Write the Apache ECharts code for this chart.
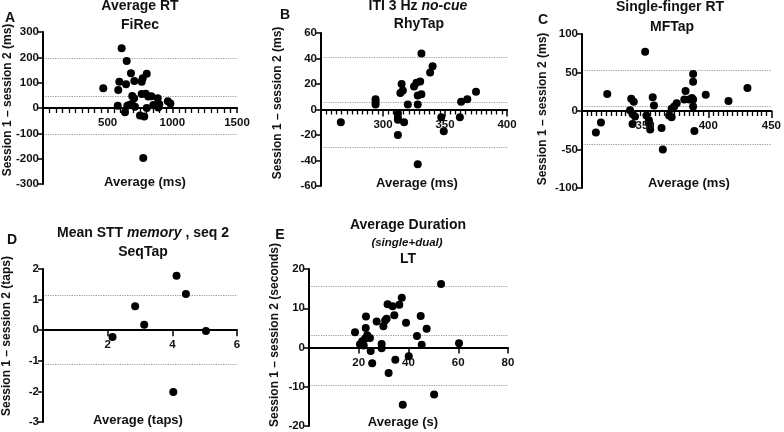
<!DOCTYPE html>
<html><head><meta charset="utf-8">
<script src="https://cdn.jsdelivr.net/npm/echarts@6/dist/echarts.min.js"></script>
<style>html,body{margin:0;padding:0;background:#fff}#c{width:784px;height:432px}</style>
</head><body><div id="c"></div>
<script>
// ---- Data (average, difference) per panel ----
const fiRecPoints = [[608,236],[647,186],[466,78],[590,104],[582,71],[642,94],[680,137],[706,107],[763,104],[771,117],[802,135],
  [690,47],[704,38],[763,55],[794,56],[814,45],[887,38],[578,9],[634,-17],[667,12],[711,5],[686,16],[652,9],[750,-30],[783,-34],
  [802,0],[853,12],[899,15],[891,2],[965,27],[985,18],[838,46],[775,-197]];
const fiRecLimits = [197, 47, -102];

const rhyTapPoints = [[331,44],[340,34],[338,29],[315,20],[314,13],[316,15],[325,18],[327,21],[330,22],[328,11],[331,12],[328,4],
  [294,8],[294,6],[294,4],[320,4],[312,-3],[312,-6],[312,-8],[317,-10],[312,-20],[266,-10],[347,-6],[349,-17],[362,-6],[363,6],
  [368,8],[375,14],[328,-43]];
const rhyTapLimits = [41, 5.7, -29.6];

const mfTapPoints = [[350,77],[320,22],[311,-28],[315,-15],[339,16],[341,12],[338,1],[340,-4],[342,-7],[340,-17],[351,-6],[353,-12],
  [353,-16],[354,-24],[356,18],[357,7],[363,-22],[364,-50],[369,-6],[371,-8],[371,3],[373,6],[375,10],[382,26],[381,15],[385,15],
  [387,17],[388,15],[388,48],[388,38],[388,6],[389,-26],[398,21],[416,13],[431,30]];
const mfTapLimits = [53, 5.6, -43];

const seqTapPoints = [[2.15,-0.22],[2.85,0.78],[3.13,0.18],[4.13,1.78],[4.42,1.18],[4.03,-2.02],[5.04,-0.03]];
const seqTapLimits = [1.15, 0.03, -1.11];

const ltPoints = [[53.1,16.2],[18.5,3.9],[22.9,7.9],[22.8,5.0],[23.4,3.1],[22.5,2.2],[21.4,1.6],[20.5,0.8],[22,0.5],[24.5,2.4],
  [24.8,-0.9],[25.4,-4.0],[27.2,6.6],[29.9,5.4],[30.6,6.9],[31.2,7.3],[29.2,0.9],[29.2,-0.2],[31.6,11.0],[33.6,10.5],[34.3,8.2],
  [32.0,-6.5],[34.7,-3.1],[36.3,10.9],[37.3,12.7],[37.7,-14.6],[39.0,6.3],[40.1,-2.2],[43.4,2.9],[44.9,8.0],[45.3,0.7],[47.3,4.8],
  [50.3,-12.0],[60.3,1.1]];
const ltLimits = [15.7, 3.0, -9.7];

// ---- Axis ranges: [min, max, labelled interval, minor divisions] ----
const xRanges = [[0,1500,500,10],[250,400,50,12],[300,450,50,13],[0,6,2,0],[0,80,20,0]];
const yRanges = [[-300,300,100],[-60,60,20],[-100,100,50],[-3,2,1],[-20,20,10]];

const FONT = '"Liberation Sans", Arial, sans-serif';
const grids = [
  {left:43, top:32, width:194, height:152},
  {left:321, top:33, width:186, height:153},
  {left:582, top:34, width:194, height:154},
  {left:43, top:269, width:194, height:153},
  {left:309, top:269, width:199, height:157}
];
const majorLen = [5, 7, 7, 6, 6];
const allPoints = [fiRecPoints, rhyTapPoints, mfTapPoints, seqTapPoints, ltPoints];
const allLimits = [fiRecLimits, rhyTapLimits, mfTapLimits, seqTapLimits, ltLimits];

const lbl = {color:'#111', fontWeight:'bold', fontSize:11.5, fontFamily:FONT};
const xAxes = xRanges.map((r,i)=>{
  const y = yRanges[i];
  const fromBottom = grids[i].height * (0 - y[0]) / (y[1] - y[0]);
  const ax = {
    gridIndex:i, type:'value', min:r[0], max:r[1], interval:r[2], position:'bottom', offset:-fromBottom, z:10,
    axisLine:{show:true, onZero:false, lineStyle:{color:'#000', width:2}},
    axisTick:{show:true, length:majorLen[i], lineStyle:{color:'#000', width:1.5}},
    axisLabel:Object.assign({showMinLabel:false, margin:9, formatter:v=>String(Math.round(v*1000)/1000)}, lbl),
    splitLine:{show:false}
  };
  if (r[3] > 0) ax.minorTick = {show:true, splitNumber:r[3], length:5, lineStyle:{color:'#000', width:1.3}};
  return ax;
});
const yAxes = yRanges.map((r,i)=>({
  gridIndex:i, type:'value', min:r[0], max:r[1], interval:r[2], z:10,
  axisLine:{show:true, onZero:false, lineStyle:{color:'#000', width:2}},
  axisTick:{show:true, length:5, lineStyle:{color:'#000', width:1.5}},
  axisLabel:Object.assign({margin:4}, lbl),
  splitLine:{show:false}
}));
const series = allPoints.map((pts,i)=>({
  type:'scatter', xAxisIndex:i, yAxisIndex:i, data:pts, symbolSize:8, z:6,
  itemStyle:{color:'#000', opacity:1},
  markLine:{silent:true, z:1, symbol:['none','none'], label:{show:false},
    lineStyle:{type:'dotted', color:'#9a9a9a', width:1.2, opacity:1},
    data:allLimits[i].map(v=>({yAxis:v}))}
}));

function t(text, x, y, size, extra, style){
  return Object.assign({type:'text', x:x, y:y, style:Object.assign({text:text, fill:'#111',
    font:(style||'bold')+' '+size+'px '+FONT, align:'center', verticalAlign:'middle'})}, extra||{});
}
function rt(text, x, y, rich){
  return {type:'text', x:x, y:y, style:{text:text, align:'center', verticalAlign:'middle', rich:rich}};
}
const bold14 = {fill:'#111', font:'bold 14px '+FONT};
const ital14 = {fill:'#111', font:'italic bold 14px '+FONT};
const graphic = [
  t('A', 10, 18, 14), t('B', 285, 15, 14), t('C', 543, 20, 14), t('D', 12, 240, 14), t('E', 280, 235, 14),
  t('Average RT', 140, 6, 14), t('FiRec', 140, 25, 14),
  rt('{b|ITI 3 Hz }{i|no-cue}', 418, 6, {b:bold14, i:ital14}), t('RhyTap', 419, 24, 14),
  t('Single-finger RT', 670, 7, 14), t('MFTap', 672, 27, 14),
  rt('{b|Mean STT }{i|memory}{b| , seq 2}', 143, 233, {b:bold14, i:ital14}), t('SeqTap', 143, 252, 14),
  t('Average Duration', 408, 225, 14),
  t('(single+dual)', 407, 243, 11.5, null, 'italic bold'),
  t('LT', 408, 259, 14),
  t('Average (ms)', 145, 182, 13), t('Average (ms)', 417, 183, 13), t('Average (ms)', 689, 183, 13),
  t('Average (taps)', 138, 420, 13), t('Average (s)', 403, 422, 13),
  t('Session 1 \u2013 session 2 (ms)', 8, 100, 12, {rotation:Math.PI/2}),
  t('Session 1 \u2013 session 2 (ms)', 278, 103, 12, {rotation:Math.PI/2}),
  t('Session 1 \u2013 session 2 (ms)', 543, 109, 12, {rotation:Math.PI/2}),
  t('Session 1 \u2013 session 2 (taps)', 7, 336, 12, {rotation:Math.PI/2}),
  t('Session 1 \u2013 session 2 (seconds)', 275, 335, 12, {rotation:Math.PI/2})
];

const chart = echarts.init(document.getElementById('c'), null, {renderer:'canvas'});
chart.setOption({animation:false, grid:grids, xAxis:xAxes, yAxis:yAxes, series:series, graphic:graphic});
</script></body></html>
